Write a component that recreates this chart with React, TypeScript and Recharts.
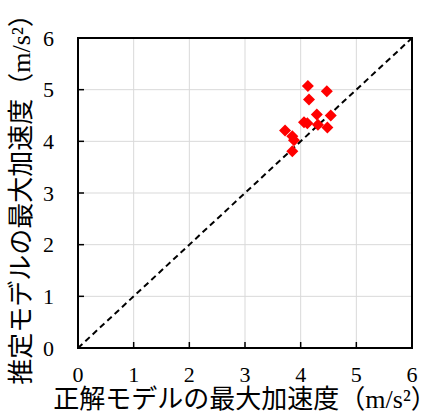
import React from 'react';
import { ScatterChart, Scatter, XAxis, YAxis, CartesianGrid, ReferenceLine, ReferenceArea, Label } from 'recharts';

// 正解モデル (x) vs 推定モデル (y), m/s2
const truthAcc = [4.13, 4.47, 4.15, 4.29, 4.54, 4.06, 4.12, 4.31, 4.48, 3.72, 3.85, 3.88, 3.85];
const estAcc = [5.07, 4.97, 4.81, 4.52, 4.5, 4.37, 4.35, 4.32, 4.27, 4.21, 4.1, 4.02, 3.81];
const axisTicks = [0, 1, 2, 3, 4, 5, 6];
const xTitle = '正解モデルの最大加速度（m/s²）';
const yTitle = '推定モデルの最大加速度（m/s²）';

const points = truthAcc.map((x, i) => ({ x, y: estAcc[i] }));

const FONT = '"Liberation Serif", "Noto Sans CJK JP", serif';

const Diamond = (props: any) => {
    const { cx, cy } = props;
    const r = 6;
    return <polygon points={`${cx},${cy - r} ${cx + r},${cy} ${cx},${cy + r} ${cx - r},${cy}`} fill="#ff0000" />;
};

// vertical title, placed left of the tick numbers
const YTitle = (props: any) => {
    const { viewBox } = props;
    const cx = 21;
    const cy = viewBox.y + viewBox.height / 2;
    return (
        <text
            x={cx}
            y={cy}
            transform={`rotate(-90, ${cx}, ${cy})`}
            textAnchor="middle"
            dominantBaseline="central"
            fill="#000"
            fontSize={26}
            fontFamily={FONT}
        >
            {yTitle}
        </text>
    );
};

export default function App() {
    return (
        <div style={{ width: 436, height: 418, background: '#fff' }}>
            <style>{'body{margin:0}'}</style>
            <ScatterChart width={436} height={418} margin={{ top: 38, right: 24, bottom: 0, left: 0 }}>
                <CartesianGrid stroke="#d9d9d9" strokeWidth={1} />
                <XAxis
                    type="number"
                    dataKey="x"
                    domain={[0, 6]}
                    ticks={axisTicks}
                    height={70}
                    axisLine={{ stroke: '#000', strokeWidth: 2 }}
                    tickLine={{ stroke: '#000', strokeWidth: 1.5 }}
                    tickSize={-6}
                    tickMargin={24}
                    tick={{ fill: '#000', fontSize: 22, fontFamily: FONT }}
                >
                    <Label
                        value={xTitle}
                        position="insideBottom"
                        offset={10}
                        style={{ fill: '#000', fontSize: 26, fontFamily: FONT }}
                    />
                </XAxis>
                <YAxis
                    type="number"
                    dataKey="y"
                    domain={[0, 6]}
                    ticks={axisTicks}
                    width={78}
                    axisLine={{ stroke: '#000', strokeWidth: 2 }}
                    tickLine={{ stroke: '#000', strokeWidth: 1.5 }}
                    tickSize={-6}
                    tickMargin={30}
                    tick={{ fill: '#000', fontSize: 22, fontFamily: FONT }}
                >
                    <Label content={<YTitle />} />
                </YAxis>
                <ReferenceArea x1={0} x2={6} y1={0} y2={6} fill="none" stroke="#000" strokeWidth={2} />
                <ReferenceLine
                    segment={[{ x: 0, y: 0 }, { x: 6, y: 6 }]}
                    stroke="#000"
                    strokeWidth={2}
                    strokeDasharray="6 4"
                />
                <Scatter data={points} shape={<Diamond />} isAnimationActive={false} />
            </ScatterChart>
        </div>
    );
}
